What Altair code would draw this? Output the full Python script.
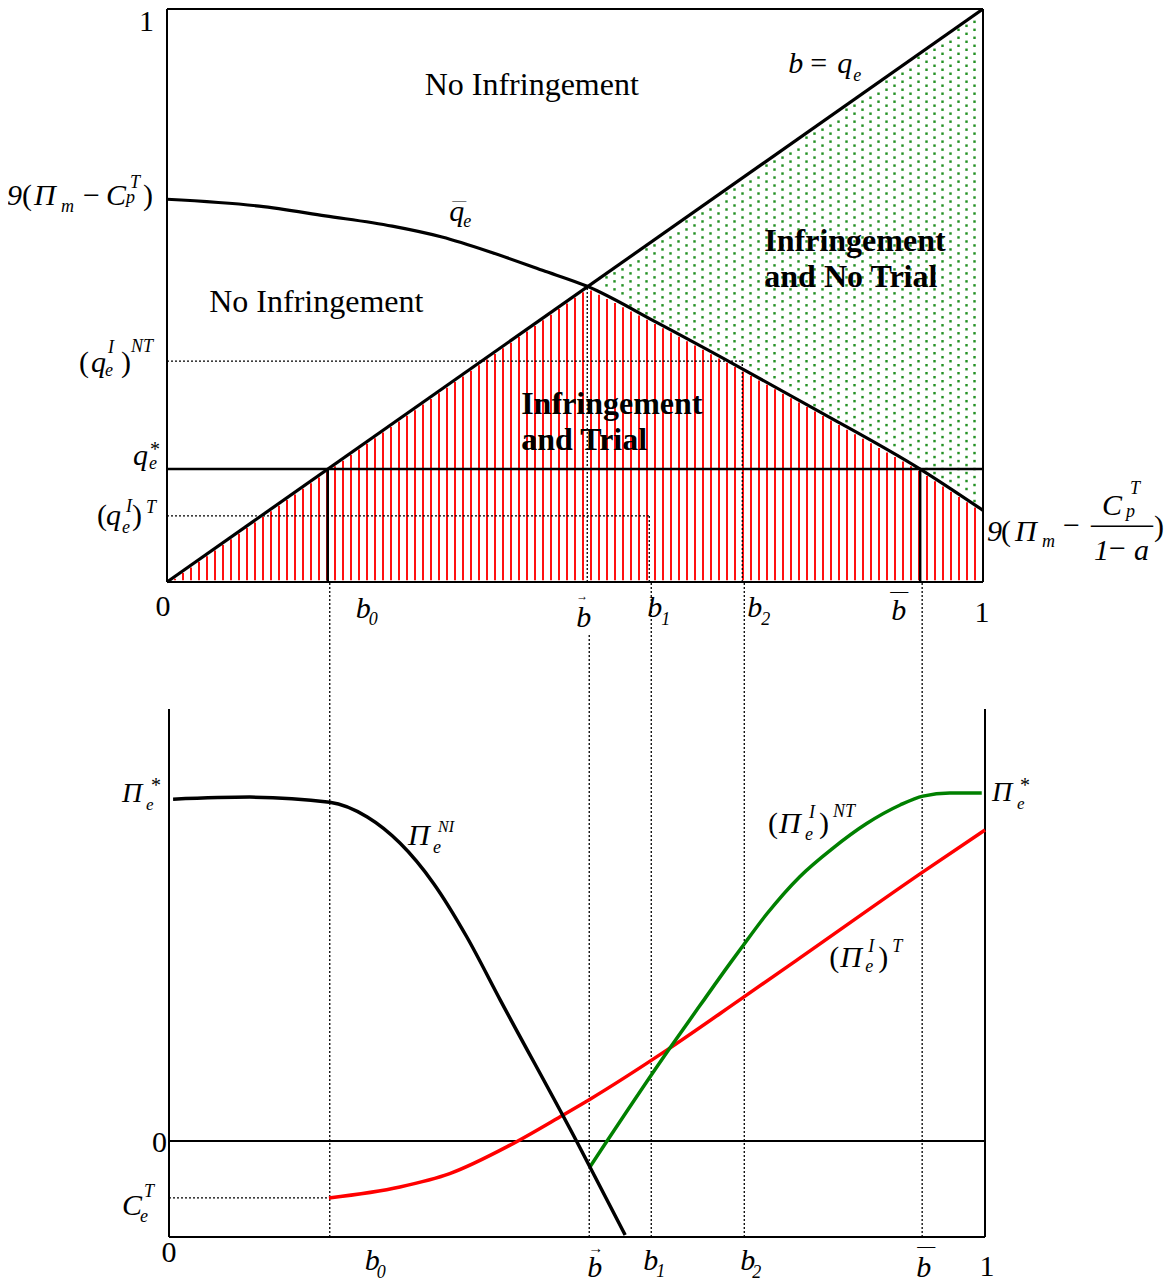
import altair as alt
import numpy as np
import pandas as pd

FONT = "Liberation Serif"

# ---------------- top panel (x = b, y = q_e) ----------------
qbar_b = [0.0, 0.113, 0.194, 0.276, 0.337, 0.398, 0.460, 0.515, 0.60, 0.70, 0.80, 0.923, 1.0]
qbar_q = [0.668, 0.656, 0.639, 0.621, 0.602, 0.575, 0.544, 0.516, 0.453, 0.376, 0.297, 0.197, 0.125]
diag_b = [0.0, 1.0]
diag_q = [0.0, 1.0]
q_star = 0.197
q_NT = 0.3855
q_T = 0.1155
q_cross = 0.516
b0 = 0.197
b_arrow = 0.515
b1 = 0.591
b2 = 0.705
b_bar = 0.923

# ---------------- bottom panel (x = b, y = profit) ----------------
pi_ni_b = [0.005, 0.099, 0.197, 0.243, 0.283, 0.324, 0.365, 0.406, 0.500, 0.559]
pi_ni_v = [0.997, 1.003, 0.988, 0.945, 0.869, 0.752, 0.595, 0.411, -0.003, -0.274]
pi_t_b = [0.196, 0.283, 0.344, 0.418, 0.483, 0.516, 0.610, 0.702, 0.769, 0.924, 1.0]
pi_t_v = [-0.166, -0.134, -0.095, -0.012, 0.076, 0.122, 0.265, 0.416, 0.527, 0.785, 0.907]
pi_nt_b = [0.516, 0.610, 0.6545, 0.6875, 0.702, 0.7325, 0.773, 0.813, 0.855, 0.896, 0.924, 0.957, 0.996]
pi_nt_v = [-0.075, 0.258, 0.408, 0.518, 0.565, 0.662, 0.771, 0.853, 0.926, 0.980, 1.006, 1.015, 1.015]
pi_star_left = 1.0
pi_star_right = 1.015
c_T = -0.166
v_lo, v_hi = -0.28, 1.26
v_gap = 1.63        # bottom edge of the upper panel, in lower-panel units
v_gap_arrow = 1.481 # where the dotted b-arrow guide resumes under its label

# ---------------- scales ----------------
sxT = alt.Scale(domain=[0, 1], range=[159, 975])
syT = alt.Scale(domain=[0, 1], range=[574, 1])
sxB = alt.Scale(domain=[0, 1], range=[161, 977])
syB = alt.Scale(domain=[v_lo, v_hi], range=[1229, 701])


def enc(sx, sy, two=False):
    d = dict(x=alt.X("x:Q", scale=sx, axis=None), y=alt.Y("y:Q", scale=sy, axis=None))
    if two:
        d["x2"] = alt.X2("x2:Q")
        d["y2"] = alt.Y2("y2:Q")
    return d


def segs(rows, sx, sy, **kw):
    df = pd.DataFrame(rows, columns=["x", "y", "x2", "y2"])
    return alt.Chart(df).mark_rule(**kw).encode(**enc(sx, sy, True))


def curve(xs, ys, sx, sy, **kw):
    return alt.Chart(pd.DataFrame({"x": xs, "y": ys})).mark_line(**kw).encode(**enc(sx, sy))


def label(x, y, pieces, sx, sy):
    out = []
    for p in pieces:
        text, dx, dy, size = p[:4]
        style = p[4] if len(p) > 4 else "italic"
        weight = p[5] if len(p) > 5 else "normal"
        align = p[6] if len(p) > 6 else "left"
        out.append(
            alt.Chart(pd.DataFrame({"x": [x], "y": [y]}))
            .mark_text(text=text, dx=dx, dy=dy, fontSize=size, fontStyle=style,
                       fontWeight=weight, align=align, baseline="alphabetic",
                       font=FONT, color="black")
            .encode(**enc(sx, sy))
        )
    return out


# ---------------- fill textures of the upper panel ----------------
step_b = 8 / 816
step_q = 8 / 574
hb = np.arange(1, 102) * step_b
hb = hb[hb < 0.995]
htop = np.minimum(hb, np.interp(hb, qbar_b, qbar_q)) - 0.004
hatch = pd.DataFrame({"x": hb, "y": 0.003, "x2": hb, "y2": htop})

dx_list, dy_list = [], []
for k, bb in enumerate(np.arange(b_arrow + 0.004, 0.997, step_b)):
    lo = np.interp(bb, qbar_b, qbar_q) + 0.006
    hi = bb - 0.006
    qq = np.arange(0.5 * step_q * (k % 2) + 0.002, 1.0, step_q)
    sel = qq[(qq > lo) & (qq < hi)]
    dx_list += [bb] * len(sel)
    dy_list += list(sel)
dots = pd.DataFrame({"x": dx_list, "y": dy_list})

top = []
top.append(alt.Chart(dots).mark_square(size=6, color="#259125", opacity=1).encode(**enc(sxT, syT)))
top.append(alt.Chart(hatch).mark_rule(color="#ff1010", strokeWidth=2).encode(**enc(sxT, syT, True)))

# region labels
top += label(0.447, 0.850, [("No Infringement", 0, 0, 32, "normal", "normal", "center")], sxT, syT)
top += label(0.183, 0.472, [("No Infringement", 0, 0, 32, "normal", "normal", "center")], sxT, syT)
top += label(0.732, 0.578, [("Infringement", 0, 0, 32, "normal", "bold")], sxT, syT)
top += label(0.732, 0.514, [("and No Trial", 0, 0, 32, "normal", "bold")], sxT, syT)
top += label(0.434, 0.294, [("Infringement", 0, 0, 32, "normal", "bold")], sxT, syT)
top += label(0.434, 0.230, [("and Trial", 0, 0, 32, "normal", "bold")], sxT, syT)

# dotted guides
dot_style = dict(color="black", strokeWidth=1.3, strokeDash=[2, 2])
top.append(segs([(0, q_NT, b2, q_NT), (0, q_T, b1, q_T),
                 (b_arrow, 0, b_arrow, q_cross), (b1, 0, b1, q_T), (b2, 0, b2, q_NT)],
                sxT, syT, **dot_style))
# solid lines
top.append(segs([(0, 0, 1, 0), (0, 1, 1, 1), (0, 0, 0, 1), (1, 0, 1, 1)], sxT, syT,
                color="black", strokeWidth=2))
top.append(segs([(0, q_star, 1, q_star), (b0, 0, b0, q_star), (b_bar, 0, b_bar, q_star)],
                sxT, syT, color="black", strokeWidth=2.5))
top.append(curve(diag_b, diag_q, sxT, syT, color="black", strokeWidth=3.2))
top.append(curve(qbar_b, qbar_q, sxT, syT, color="black", strokeWidth=3.2, interpolate="monotone"))

# curve labels
top += label(0.760, 0.888, [("b", 1, 0, 30), ("=", 23, 0, 30, "normal"), ("q", 50, 0, 30),
                            ("e", 66, 8, 18)], sxT, syT)
top += label(0.346, 0.634, [("q", 0, 2, 30), ("—", 3, -14, 14, "normal"), ("e", 14, 8, 18)], sxT, syT)

# left labels
top += label(0, 1, [("1", -13, 22, 30, "normal", "normal", "right")], sxT, syT)
top += label(0, 0.666, [("9", -160, 5, 30), ("(", -145, 5, 30, "normal"), ("Π", -133, 5, 30),
                        ("m", -106, 12, 18), ("−", -84, 5, 30, "normal"), ("C", -61, 5, 30),
                        ("T", -37, -12, 18), ("p", -41, 3, 18), (")", -24, 5, 30, "normal")], sxT, syT)
top += label(0, q_NT, [("(", -88, 11, 30, "normal"), ("q", -76, 11, 30), ("I", -59, -8, 18),
                       ("e", -62, 15, 18), (")", -46, 11, 30, "normal"), ("NT", -36, -9, 18)], sxT, syT)
top += label(0, q_star, [("q", -34, -4, 30), ("e", -18, 0, 18), ("*", -17, -13, 20, "normal")], sxT, syT)
top += label(0, q_T, [("(", -70, 9, 30, "normal"), ("q", -61, 9, 30), ("I", -41, -4, 18),
                      ("e", -45, 17, 18), (")", -35, 9, 30, "normal"), ("T", -21, -3, 18)], sxT, syT)
# right label
top += label(1, qbar_q[-1], [("9", 4, 31, 30), ("(", 18, 31, 30, "normal"), ("Π", 32, 31, 30),
                             ("m", 59, 37, 18), ("−", 80, 25, 30, "normal"), ("C", 119, 5, 30),
                             ("T", 147, -16, 18), ("p", 143, 7, 18), ("——", 108, 24, 31, "normal"),
                             ("1", 111, 50, 30), ("−", 126, 48, 30, "normal"), ("a", 151, 50, 30),
                             (")", 171, 26, 30, "normal")], sxT, syT)
# x labels of the upper panel
top += label(0, 0, [("0", -4, 34, 30, "normal", "normal", "center")], sxT, syT)
top += label(b0, 0, [("b", 28, 36, 30), ("0", 41, 43, 18)], sxT, syT)
top += label(b_arrow, 0, [("b", -11, 45, 30), ("→", -11, 18, 12, "normal")], sxT, syT)
top += label(b1, 0, [("b", -2, 35, 30), ("1", 12, 43, 18)], sxT, syT)
top += label(b2, 0, [("b", 5, 35, 30), ("2", 19, 43, 18)], sxT, syT)
top += label(b_bar, 0, [("b", -29, 38, 30), ("—", -30, 15, 18, "normal")], sxT, syT)
top += label(1, 0, [("1", -1, 40, 30, "normal", "normal", "center")], sxT, syT)

# ---------------- lower panel ----------------
bot = []
bot.append(segs([(b0, v_lo, b0, v_gap), (b_arrow, v_lo, b_arrow, v_gap_arrow),
                 (b1, v_lo, b1, v_gap), (b2, v_lo, b2, v_gap), (b_bar, v_lo, b_bar, v_gap),
                 (0, c_T, b0, c_T)], sxB, syB, **dot_style))
bot.append(segs([(0, v_lo, 0, v_hi), (1, v_lo, 1, v_hi), (0, v_lo, 1, v_lo)], sxB, syB,
                color="black", strokeWidth=2))
bot.append(segs([(0, 0, 1, 0)], sxB, syB, color="black", strokeWidth=1.8))
bot.append(curve(pi_t_b, pi_t_v, sxB, syB, color="#ff0000", strokeWidth=3.5, interpolate="monotone"))
bot.append(curve(pi_nt_b, pi_nt_v, sxB, syB, color="#008000", strokeWidth=3.5, interpolate="monotone"))
bot.append(curve(pi_ni_b, pi_ni_v, sxB, syB, color="black", strokeWidth=3.5, interpolate="monotone"))

bot += label(0, pi_star_left, [("Π", -47, 4, 28), ("e", -23, 12, 17), ("*", -18, -6, 20, "normal")], sxB, syB)
bot += label(0, 0, [("0", -2, 11, 30, "normal", "normal", "right")], sxB, syB)
bot += label(0, c_T, [("C", -47, 17, 30), ("T", -25, -1, 18), ("e", -29, 24, 18)], sxB, syB)
bot += label(1, pi_star_right, [("Π", 7, 8, 28), ("e", 32, 16, 17), ("*", 35, -1, 20, "normal")], sxB, syB)
bot += label(0.293, 0.863, [("Π", 0, 0, 30), ("e", 25, 8, 18), ("NI", 30, -13, 16)], sxB, syB)
bot += label(0.734, 0.898, [("(", 0, 0, 30, "normal"), ("Π", 11, 0, 30), ("I", 41, -15, 18),
                            ("e", 37, 7, 18), (")", 51, 0, 30, "normal"), ("NT", 65, -16, 18)], sxB, syB)
bot += label(0.809, 0.507, [("(", 0, 0, 30, "normal"), ("Π", 11, 0, 30), ("I", 39, -15, 18),
                            ("e", 36, 5, 18), (")", 49, 0, 30, "normal"), ("T", 63, -15, 18)], sxB, syB)
# x labels of the lower panel
bot += label(0, v_lo, [("0", 0, 25, 30, "normal", "normal", "center")], sxB, syB)
bot += label(b0, v_lo, [("b", 35, 33, 30), ("0", 47, 41, 18)], sxB, syB)
bot += label(b_arrow, v_lo, [("b", -2, 40, 30), ("→", -1, 16, 15, "normal")], sxB, syB)
bot += label(b1, v_lo, [("b", -8, 33, 30), ("1", 5, 40, 18)], sxB, syB)
bot += label(b2, v_lo, [("b", -4, 33, 30), ("2", 8, 41, 18)], sxB, syB)
bot += label(b_bar, v_lo, [("b", -6, 40, 30), ("—", -5, 15, 18, "normal")], sxB, syB)
bot += label(1, v_lo, [("1", 2, 39, 30, "normal", "normal", "center")], sxB, syB)

chart = (
    alt.layer(alt.layer(*top), alt.layer(*bot))
    .resolve_scale(x="independent", y="independent")
    .properties(width=1157, height=1275, padding=0,
                autosize=alt.AutoSizeParams(type="none"))
    .configure_view(stroke=None)
)

chart.save("out.html", embed_options={"renderer": "svg", "actions": False})
